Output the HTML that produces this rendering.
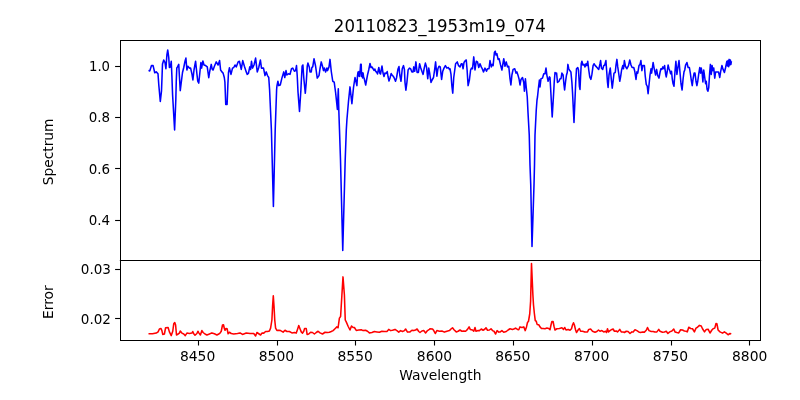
<!DOCTYPE html>
<html><head><meta charset="utf-8"><title>20110823_1953m19_074</title>
<style>html,body{margin:0;padding:0;background:#fff}body{width:800px;height:400px;overflow:hidden}svg{display:block}text{font-family:"DejaVu Sans","Liberation Sans",sans-serif;fill:#000}</style></head><body>
<svg width="800" height="400" viewBox="0 0 800 400">
<rect width="800" height="400" fill="#fff"/>
<polyline fill="none" stroke="#0000ff" stroke-width="1.55" stroke-linejoin="round" stroke-linecap="butt" points="148.5,70.4 149.75,71 151.5,65.6 153.1,65.6 154.75,72.75 156.25,71.9 158,73.75 158.8,85 160.3,101.5 161.5,91 162.1,75 162.5,64 163.75,60 165,62.5 165.9,68.75 166.9,55 167.75,50 168.75,57.5 169.4,67.5 170.4,66.9 171.25,61.25 171.9,76 172.6,95 174.6,130 175.8,100 176.3,80 176.8,68 177.5,66.9 178.75,64.4 179.4,76 180.25,90.6 181.25,82.5 182.5,72.5 183.75,67.5 185,61.25 185.9,58.1 186.9,70 187.9,66.25 189.4,68.1 190.6,68.1 191.9,73.75 192.9,80 194,70 195.6,61.25 196.9,73.75 197.75,81.25 198.75,83.1 199.75,73.75 200.9,62.5 201.6,68.1 202.9,61 204,65 205.6,65.6 207.25,66.9 208.75,77.75 209.75,71.25 211.25,64.4 212.25,69.4 213.1,70 214.4,66.25 216.25,61.9 218.1,65 219.6,60.6 220.6,70 221.9,71.9 223.1,73.1 224.3,77.5 224.9,82 225.75,104.4 227.1,104.4 227.9,84 228.5,72.5 229.4,67.8 231,74.4 232.5,68.1 233.75,67.5 235,65 236.25,66.9 238.1,61.9 239.4,61.25 240,63.75 241.25,69.4 242.75,60.6 244.4,66.25 246.25,71.9 247.25,74.4 248.5,73.1 249.75,66.9 250.6,69.4 251.5,61.25 252.5,68.1 254,65 255.6,58.1 257.25,71.9 258.75,67.5 260.4,60 261.5,68.1 263.5,68.1 265,75.6 266.25,71.9 267.5,75.6 268.75,77.5 269.6,90 271.4,130 273.4,206.5 275.2,130 276.6,90 276.9,86.25 277.9,81.25 278.75,85.6 280.25,85 281.9,78.1 283.75,71.9 284.75,77.5 286,70.6 286.9,75 288.5,73.75 290,74.4 291.5,68.75 292.75,68.1 294.4,71.25 295.6,70.6 296.5,65.6 297.25,76.25 298,92 299.5,111.5 300.9,90 301.25,82.5 302.1,66.25 302.9,65 303.75,77.5 305.3,93.3 306.25,82.5 307.25,66.25 307.9,63.1 309.4,67.5 310,71.9 311.25,71.9 311.9,67.5 312.75,66.9 314,58.75 315.6,66.25 317.25,78.1 319,75.6 320,68.75 321.25,61.9 322.5,66.25 323.5,70.6 324.4,68.1 325.6,71.9 326.9,68.1 327.5,70.6 329,66.9 330,59.4 331.25,71.25 332.75,81.25 334.2,82.2 335.6,92.5 337.4,109.5 338.3,88.75 338.8,110 339.5,130 340.5,160 342.75,250.5 345.2,160 346.3,130 346.9,120 348.5,101.25 350,86.9 351.9,103.75 353.5,87.5 355,77.5 356.9,85.6 357.5,75.5 358,72 358.5,76 359,71.5 359.6,76.5 360.1,71.5 360.6,64.2 361.2,64.2 361.6,76.5 362.1,72.5 362.6,78 363.1,73 363.6,77 364.2,78.5 365.7,85 367.5,75 368.7,70 370,63.5 371,67.5 372,67 373.2,69 374,70.5 374.8,69 375.8,71.5 376.5,72 377.5,74 378.8,67.5 379.8,73 380.5,74 382,66 383,73 384,76.5 385,73 386.2,73.5 387.2,71.5 388,76.5 389,81 390,78 391.2,73.5 392,75 393,76 394,77.5 395.5,81.2 396.5,78 398,69 399,66.5 399.8,75 401,81.25 402.25,68.75 403.5,65.6 404.4,69.4 405,82.5 405.9,90.25 406.9,82.5 408.1,70 409.4,68.1 410.6,68.75 411.9,71.9 413.1,71.9 413.75,66.9 414.75,71.25 415.9,61.9 417.1,72.5 418.4,72.5 419.6,63.75 420.6,67.5 421.9,71.25 423.1,74.4 424.1,68.75 425.4,63.1 426.5,66.9 427.75,78.75 428.75,68.1 429.75,73.75 431,82.5 432.1,80 433.5,77.5 434.6,70 435.6,61.9 436.9,76.25 437.9,68.75 439,66.25 440.25,66.9 441.6,79.4 442.75,71.25 444,68.1 445.4,65.6 446.9,68.1 448.4,67.5 449.4,69.4 450,68.75 451,74.4 451.9,86.25 452.75,93.1 453.75,77.5 455.6,63.75 457.25,61.9 458.5,65.6 460,66.9 461.25,63.75 462.1,63.75 463.1,68.75 464,62.5 465.25,60.6 466.25,60 467.1,70 468.1,85.6 469.4,80 470.6,70 471.5,68.1 472.5,68.75 473.75,56.9 475,70 476.25,61.25 477.5,61.9 478.75,67.5 480,63.75 481.25,66.9 482.25,68.75 483.5,71.9 485,68.1 486.5,71.25 487.5,68.75 489,68.75 490,60.6 491.25,66.9 492.25,64.4 493.1,65.6 494.4,52.5 495.25,51.25 496,55 496.9,53.75 498.1,59.4 499.1,58.75 500.4,64.4 501.9,70 503.75,58.75 505,66.25 506.25,61.9 507.5,66.9 508.75,66.25 510,78.75 510.9,85 511.9,75 513.1,69.4 514.75,68.75 516,73.1 516.9,71.9 518.1,75.6 519,78.75 520,85 521,79.4 522.5,77.5 523.75,82.5 524.4,91.25 525.4,78.75 526.25,87.5 527.25,97 528,112.5 529.25,135 530,165 530.75,185 532,246.5 534,185 534.5,165 535,135 536.25,110 537,100 537.5,97 538.5,87.5 539.4,80 540,86.9 541,78.75 542.5,78.1 543.75,73.75 545,73.75 546,68.1 546.9,75.3 548.1,81.25 549.4,76.9 550,77.5 550.6,88 552.2,116.9 553.7,92 554.2,82.5 555,72.5 556,73.75 556.6,73.1 557.5,82.5 559,81.25 560,78.75 561,78.75 561.9,73.1 563.1,75 564,85 564.6,90 565.6,81.25 566.5,75 567.25,72.5 567.9,64.4 568.75,68.75 569.75,70.6 570.9,71.9 571.9,82.5 572.5,92 574,122.5 575.3,92 575.7,82.5 576.5,68.75 577.75,67.5 578.5,70 579.4,86.25 580,89.4 580.6,76.25 581.25,63.75 581.9,61.25 582.9,65 584,64.4 585,66.9 586,63.75 586.9,65.6 587.75,61.25 588.75,70 589.75,76.9 590.9,79.4 591.9,74.4 593.1,65.6 594,63.75 595.25,65.6 596.5,66.9 597.5,68.1 598.75,69.4 600,63.75 600.6,60.6 601.5,68.1 602.75,69.4 603.75,65.6 604.75,65 605.9,60.6 606.6,70 607.5,82.5 608.1,87.5 609,75 610.25,68.1 611.25,78.75 612.25,88.1 613.1,81.25 614,73.1 615.25,72.5 616,65 616.9,59.4 617.75,66.9 618.75,73.75 619.75,81.25 620.6,76.9 621.6,70 622.75,65.6 623.5,68.75 624.4,60.6 625.4,66.25 626.9,68.75 628.5,65.6 629.75,60 631,65 632.1,67.5 633.75,67.5 634.75,71.25 636,79.4 636.9,71.9 637.75,73.1 639,65.6 640,64.4 640.9,60.6 641.9,70.6 642.75,65.6 644.4,65.6 645.25,76.25 646.25,84.4 647.25,86.25 648.1,93.75 649,85 650,75 651,68.75 651.6,73.1 652.25,68.75 653.1,62.5 654.1,68.1 655.6,75 656.6,69.4 657.75,75.6 659,78.1 660,72.5 660.9,68.75 661.9,69.4 662.9,66.9 663.75,68.75 664.6,65.6 665.6,73.75 666.25,76.9 667.25,71.25 668.1,65 669,68.75 670,71.25 670.6,73.75 671.5,71.25 672.25,78.75 673.1,83.75 674,86.25 675,71.25 675.9,61.25 676.9,74.4 677.9,67.5 679,60.6 680,72.5 681,83.75 682.1,90 683.1,78.75 684,71.9 684.75,70 685.6,65 686.9,62.5 688.1,67.5 689.4,67.5 690.4,73.75 691.25,80 692.25,85.6 693.1,78.75 694.1,73.1 695,73.1 696,81.25 696.9,85.6 697.75,81.25 698.75,73.75 699.75,67.5 700.6,73.1 701.25,68.1 702.1,72.5 702.9,81.9 703.75,70 704.75,77.5 705.6,83.75 706.25,81.25 707.1,89.4 707.9,91.25 708.75,87.5 709.6,73.75 710.4,64.4 711.25,74.4 712.1,65.6 712.9,70.6 713.75,68.1 714.75,78.1 715.6,71.9 716.9,71.9 718.5,71.9 719.75,77.5 720.6,71.9 721.9,65.6 723.1,69.4 724.4,72.5 725.6,67.5 726.9,61.25 727.5,66 728.1,60.5 728.7,66.8 729.2,59.4 729.8,65 730.4,60 730.9,64.5 731.4,61.2"/>
<polyline fill="none" stroke="#ff0000" stroke-width="1.55" stroke-linejoin="round" stroke-linecap="butt" points="148.5,333.75 152.5,333.75 156.25,333.1 158.1,331.9 159.4,329 161,328.5 161.9,330.6 162.75,334.4 164.4,334 165.6,327.75 168.1,327.5 169.4,331.9 171.25,335.6 172.75,331.25 173.75,323.75 174.75,322.5 175.6,325 176.5,335 178.1,334 179.4,333.1 180.25,331 181.9,333.1 183.75,334 185.25,335.6 186.9,333.1 189.4,333.5 191.9,333.1 192.75,331.5 193.75,333.75 195,335.25 196.9,333.5 197.9,331.25 199,333.1 200.4,335 201.9,330.6 203.1,332.5 205,334 206.9,335 209.4,334 211.9,332.9 214.4,333.75 216.9,335 218.75,334 220,333.1 221.25,331.25 222.5,325 223.5,324.75 224.4,328.75 225,330.25 226,328.5 227.1,328.75 228.1,333.75 229.4,332.25 231.25,333.5 233.75,334 237.5,333.5 240,332.9 242.5,334.4 246.25,333.1 250,333.5 253.75,333.5 255.6,336 256.9,332.5 258.75,333.75 260.6,335 261.9,333.1 263.75,333.1 265.6,331.5 267.5,331.5 269.4,331 270.6,328.1 271.9,320 272.6,306 273.3,295.8 274,306 274.75,320 275.6,328.1 276.9,330.4 278.75,330.25 280.6,330.6 283.1,332.1 285,330.25 286.9,331.5 289.4,331.5 291.9,332.9 294.4,332.5 296.25,333.1 297.5,329.4 298.75,325.6 300,328.75 301.25,331.9 302.5,333.1 303.75,331.25 304.6,328.5 306.25,328.5 307.1,334.4 308.75,334 310.6,332.25 312.5,332.5 314.4,334 316.25,332.5 318.1,331.25 320,332.9 322.5,334 325,332.25 327.5,332.5 329.4,332.25 331.25,331.5 333.1,330.6 335,328.75 336.9,326.9 338.1,327.75 339.4,318.1 340.6,316.5 341.9,295 343,276.9 344.4,295 345.25,320 346.25,321.9 348.1,326.25 350,330 351.5,326 353.1,327.5 354.4,327.5 356.25,330.4 358.75,330 361.25,329.75 363.1,330.6 365.6,330.25 367.5,331.25 369.4,332.9 371.9,332.5 374.4,331.5 376.9,331.9 379.4,332.25 381.9,331.25 384.4,331.5 386.9,331.5 388.75,329.4 390.6,330.6 392.5,330.25 395,329.4 396.9,330.6 398.75,332.1 400.6,330.6 402.5,331.5 404.4,330.6 405.6,329 407.5,332.1 410,331.9 411.9,330.25 413.75,330.6 415.6,330 417.1,329 418.75,331.5 420,332.5 421.9,331 423.75,330.6 425.6,332.9 427.5,330.6 429.4,329.4 430,328.75 432.5,329 433.75,330.6 435.25,333.5 436.9,330.6 439.4,331.25 441.9,331 444.4,332.1 446.9,331.25 449.4,330.6 451.25,328.75 452.5,327.75 454,329.75 456.25,331.9 458.1,331.25 460,330 461.9,331.25 463.75,331 465.6,331.25 467.5,329.4 469.1,326.9 470.25,329.4 472.5,330 473.75,331.25 475,327.5 476,331.25 478.1,330.6 479.4,330.6 481.25,329 483.1,330.25 485,329 486,327.75 487.5,330.25 489.4,330 491,328.75 492.5,330.6 494,331.25 495.6,334 497.1,330.6 498.75,332.1 500.25,331.9 501.9,330.6 503.75,332.25 506.25,331.5 508.1,330 510,328.75 512.5,329.4 514.4,328.75 515.6,328.1 517.5,329.4 518.75,329.75 520,326.9 521.9,327.5 523.75,326.9 525.25,330.6 526.5,326.9 527.5,322.5 528.5,321.25 529.75,313.75 530.6,301.25 531.5,263.5 532.9,295 533.5,305 534.4,313.75 535.25,320.6 536.25,321.25 537.1,324.4 538.75,324.75 540,326.9 541.5,328.5 543.1,328.5 545,328.75 546.9,328.1 548.75,328.5 550,329.75 551,325 551.9,321.5 553.1,321.5 554,326.25 555,330 556.9,328.75 559.4,328.5 561.9,327.75 563.5,329.4 564.75,327.5 566,330 568.1,329.4 570,330.25 571.5,328.75 572.5,325 573.5,322.75 574.4,325 575.6,330 576.5,332.5 578.1,330 579.4,328.5 580.6,331.25 582.5,331.25 585,332.1 587.5,331.9 588.75,329.4 590.6,329.1 592.5,331.25 595,332.25 596.9,331.5 598.5,330 600,331.25 601.9,330.6 603.75,331.9 605.6,331.25 606.5,332.5 607.5,328.75 608.5,331.9 610,330.6 611.9,329.4 613.1,329 614.4,331.25 616.25,331 617.5,331.9 619.75,329.4 621.25,331.9 623.1,331.9 624.4,332.5 626.25,331.25 628.1,331.5 630,333.5 631.9,331.9 633.1,332.1 635,329.75 636.9,330.6 638.75,331.9 640.6,332.5 642.5,332.1 644.4,332.1 646.25,330.25 647.5,327.5 649,330.6 651.25,331.5 653.1,331.5 655,332.1 656.9,331.9 658.75,329.4 660,331.25 662.5,332.25 664.4,331.9 666.25,331.25 667.9,333.5 669.75,331.9 671.9,331 673.75,329 675,331.9 676.9,332.5 678.75,332.9 680.6,329.75 682.5,330 684.4,331 686.25,331.25 687.25,331.9 688.75,327.25 690.6,328.5 692.5,328.75 694.4,331.9 696,328.1 697.5,327.25 699.4,325.4 701.25,326 702.5,328.75 704.5,331.9 706.25,329.4 708.1,329.2 710,333 711.9,330 713.1,328.75 714.75,328.1 716,323.5 716.9,323.75 718.1,330 720,331.9 722.5,333.1 724.4,331.9 726.25,333.1 728.1,334.75 730,333.5 731.25,334"/>
<g fill="none" stroke="#000" stroke-width="1.1" shape-rendering="crispEdges">
<rect x="120.5" y="40.5" width="640" height="220"/>
<rect x="120.5" y="260.5" width="640" height="80"/>
</g>
<g fill="#000">
<rect x="197.95" y="340.5" width="1.1" height="5"/>
<rect x="276.95" y="340.5" width="1.1" height="5"/>
<rect x="354.95" y="340.5" width="1.1" height="5"/>
<rect x="433.95" y="340.5" width="1.1" height="5"/>
<rect x="512.95" y="340.5" width="1.1" height="5"/>
<rect x="591.95" y="340.5" width="1.1" height="5"/>
<rect x="670.95" y="340.5" width="1.1" height="5"/>
<rect x="748.95" y="340.5" width="1.1" height="5"/>
<rect x="115.1" y="65.95" width="5.4" height="1.1"/>
<rect x="115.1" y="116.95" width="5.4" height="1.1"/>
<rect x="115.1" y="167.95" width="5.4" height="1.1"/>
<rect x="115.1" y="219.95" width="5.4" height="1.1"/>
<rect x="115.1" y="268.95" width="5.4" height="1.1"/>
<rect x="115.1" y="317.95" width="5.4" height="1.1"/>
</g>
<rect x="119" y="260" width="1" height="1" fill="#d8d8d8"/><rect x="761" y="260" width="1" height="1" fill="#d8d8d8"/>
<g font-size="13.89px">
<text id="x8450" x="197.60" y="361.1" text-anchor="middle">8450</text>
<text id="x8500" x="276.40" y="361.1" text-anchor="middle">8500</text>
<text id="x8550" x="355.20" y="361.1" text-anchor="middle">8550</text>
<text id="x8600" x="434.50" y="361.1" text-anchor="middle">8600</text>
<text id="x8650" x="512.80" y="361.1" text-anchor="middle">8650</text>
<text id="x8700" x="591.60" y="361.1" text-anchor="middle">8700</text>
<text id="x8750" x="670.40" y="361.1" text-anchor="middle">8750</text>
<text id="x8800" x="749.70" y="361.1" text-anchor="middle">8800</text>
<text id="y1.0" x="110.05" y="71.0" text-anchor="end" textLength="21.08" lengthAdjust="spacingAndGlyphs">1.0</text>
<text id="y0.8" x="110.05" y="122.0" text-anchor="end" textLength="21.42" lengthAdjust="spacingAndGlyphs">0.8</text>
<text id="y0.6" x="110.05" y="173.8" text-anchor="end" textLength="21.42" lengthAdjust="spacingAndGlyphs">0.6</text>
<text id="y0.4" x="110.05" y="224.8" text-anchor="end" textLength="21.42" lengthAdjust="spacingAndGlyphs">0.4</text>
<text id="y0.03" x="111.00" y="273.8" text-anchor="end" textLength="30.16" lengthAdjust="spacingAndGlyphs">0.03</text>
<text id="y0.02" x="111.00" y="323.6" text-anchor="end" textLength="30.16" lengthAdjust="spacingAndGlyphs">0.02</text>
<text id="xl" x="440.3" y="379.7" text-anchor="middle" textLength="82.27" lengthAdjust="spacingAndGlyphs">Wavelength</text>
<text id="yl1" transform="translate(53,151.9) rotate(-90)" text-anchor="middle" textLength="66.56" lengthAdjust="spacingAndGlyphs">Spectrum</text>
<text id="yl2" transform="translate(53,302.1) rotate(-90)" text-anchor="middle">Error</text>
</g>
<text id="title" transform="translate(439.8,32.0) scale(1,1.06)" font-size="16.67px" text-anchor="middle" textLength="211.89" lengthAdjust="spacingAndGlyphs">20110823_1953m19_074</text>
</svg></body></html>
